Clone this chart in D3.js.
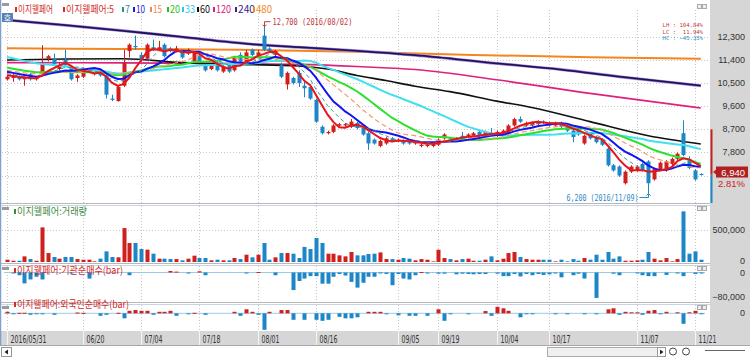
<!DOCTYPE html>
<html><head><meta charset="utf-8">
<script src="https://cdn.jsdelivr.net/npm/d3@7"></script>
<style>
body{margin:0;background:#fff;}
svg{display:block;font-family:"Noto Sans CJK KR","DejaVu Sans",sans-serif;}
</style>
</head><body>
<svg id="c" width="750" height="357"></svg>
<script>
// ---------------- DATA ----------------
const dates = ["05/31",
"06/01","06/02","06/03","06/07","06/08","06/09","06/10","06/13","06/14","06/15","06/16","06/17","06/20","06/21","06/22","06/23","06/24","06/27","06/28","06/29","06/30",
"07/01","07/04","07/05","07/06","07/07","07/08","07/11","07/12","07/13","07/14","07/15","07/18","07/19","07/20","07/21","07/22","07/25","07/26","07/27","07/28","07/29",
"08/01","08/02","08/03","08/04","08/05","08/08","08/09","08/10","08/11","08/12","08/16","08/17","08/18","08/19","08/22","08/23","08/24","08/25","08/26","08/29","08/30","08/31",
"09/01","09/02","09/05","09/06","09/07","09/08","09/09","09/12","09/13","09/19","09/20","09/21","09/22","09/23","09/26","09/27","09/28","09/29","09/30",
"10/04","10/05","10/06","10/07","10/10","10/11","10/12","10/13","10/14","10/17","10/18","10/19","10/20","10/21","10/24","10/25","10/26","10/27","10/28","10/31",
"11/01","11/02","11/03","11/04","11/07","11/08","11/09","11/10","11/11","11/14","11/15","11/16","11/17","11/18","11/21","11/22"];

const open = [10650,10700,10750,10650,10850,10650,10850,11450,11450,11050,11400,11100,10700,10750,10950,10850,10900,10800,9900,9800,
10400,11750,11950,11600,11450,11900,11800,12000,11850,11750,11750,11650,11350,11550,11200,11050,11300,10950,11200,11000,
11600,11350,11800,11600,12350,11850,11600,11200,10450,10700,10900,10400,10350,9850,8800,8550,8600,8850,8850,8800,
8950,8750,8550,8300,8050,8150,8350,8250,8250,8200,8150,8050,8050,8050,8100,8350,8350,8300,8450,8400,
8450,8600,8450,8550,8450,8550,8550,8850,9100,8850,8850,8900,9000,8950,8850,8950,8800,8650,8650,8150,
8550,8400,8300,7950,7300,7250,6600,7050,7100,7350,7450,6750,7150,7100,7350,7550,8550,7550,7100,6960];
const high = [10800,10850,10800,10750,10900,10750,11980,11600,11650,11300,11800,11150,10850,11100,11050,10950,10950,10850,10050,10400,
11800,12050,12350,11700,12050,12200,12150,12050,11900,11950,11800,11850,11750,11600,11250,11250,11350,11200,11250,11550,
11700,11800,11850,11800,12700,11900,11800,11300,10950,10750,11000,10550,10400,9900,8850,8650,8900,8950,8950,9100,
9000,8800,8600,8350,8300,8400,8400,8350,8300,8250,8250,8150,8150,8200,8350,8550,8400,8400,8600,8550,
8600,8650,8650,8750,8650,8700,8900,9150,9200,9000,9000,9050,9050,9000,9000,9000,8850,8700,8700,8500,
8600,8450,8350,8000,7350,7300,7100,7300,7300,7400,7500,7200,7450,7500,7600,7800,9050,7650,7150,6990];
const low = [10600,10550,10600,10400,10600,10600,10800,11350,11200,10950,11150,10600,10550,10700,10900,10800,10750,9900,9800,9780,
10350,11500,11800,11350,11400,11750,11750,11500,11700,11700,11450,11600,11300,11300,10950,11000,10950,10900,10900,10950,
11300,11300,11550,11550,11750,11700,11550,10700,10250,10450,10350,9950,9850,8950,8500,8500,8550,8800,8800,8750,
8700,8450,7900,8100,8000,8100,8200,8200,8100,8100,8100,8000,8000,8000,8050,8300,8250,8250,8350,8350,
8400,8400,8400,8450,8400,8500,8500,8800,8950,8800,8800,8850,8900,8800,8800,8750,8600,8200,8450,8100,
8300,8150,8050,7250,7050,6850,6550,7000,7050,7050,6200,6700,7100,7050,7300,7500,7650,7150,6700,6900];
const close = [10750,10750,10650,10700,10650,10700,11250,11550,11250,11200,11200,10650,10800,11050,11000,10900,10800,10050,9850,10350,
11300,12000,11900,11400,12000,11800,11900,11550,11750,11850,11500,11800,11700,11350,11000,11200,11000,11150,10950,11500,
11350,11700,11600,11700,11800,11750,11750,10750,10900,10500,10500,10300,9900,9000,8550,8600,8850,8900,8900,9000,
8750,8500,8150,8150,8250,8350,8250,8300,8150,8150,8200,8100,8100,8150,8300,8500,8300,8350,8400,8500,
8550,8450,8600,8500,8600,8650,8850,9100,9000,8950,8950,9000,8950,8850,8950,8800,8650,8400,8500,8450,
8350,8200,8100,7300,7100,6900,7050,7250,7250,7100,6600,7150,7400,7450,7550,7750,7700,7200,6750,6940];

// closes before 2016/05/31 (needed only to start the short moving averages)
const priorCloses = [12400,12350,12300,12250,12200,12150,12100,12100,12050,12050,12000,12000,12000,
11600,11500,11450,11350,11300,11250,11200,11100,11050,10950,
11150,11100,11050,11050,11000,10900,10850,10800,10750];

const volume = [36000,20000,20000,88000,46000,20000,541000,140000,78000,52000,78000,78000,46000,36000,36000,10000,52000,166000,78000,73000,
530000,297000,297000,203000,193000,130000,52000,52000,46000,46000,26000,52000,99000,62000,62000,26000,36000,26000,26000,62000,
46000,114000,73000,114000,297000,36000,73000,140000,140000,130000,62000,236000,203000,375000,297000,130000,130000,104000,88000,156000,
104000,104000,125000,130000,150000,46000,46000,36000,62000,52000,26000,46000,36000,10000,192000,62000,46000,26000,46000,52000,
20000,20000,36000,88000,26000,52000,140000,156000,78000,46000,36000,36000,36000,36000,10000,36000,10000,46000,20000,62000,
36000,114000,36000,156000,52000,88000,20000,20000,26000,36000,156000,52000,26000,62000,10000,46000,791000,130000,166000,36000];

const instNet = [0,-3000,-9000,-36000,-23000,-14000,-23000,0,0,0,0,-2000,0,0,-20000,0,0,0,0,0,
0,-9000,0,0,0,0,0,0,5000,3000,0,-2000,0,4000,-9000,0,0,0,0,0,
0,-3000,0,1500,0,0,-9000,0,0,-58000,-28000,-20000,-12000,-12000,-37000,-37000,-14000,-5000,-10000,-31000,
-50000,-34000,-14000,-14000,-3000,-5000,-42000,-5000,-20000,-23000,-9000,1500,-3000,0,-4000,-4000,0,-6000,-4000,-5000,
-6000,-5000,-5000,0,-4000,-12000,-12000,-5000,-13000,-5000,-9000,-5000,-8000,-6000,-3000,-16000,0,-9000,-4000,-20000,
0,-84000,0,0,-4000,-9000,0,0,-2000,-9000,-12000,-12000,0,-8000,0,-2000,-12000,0,-5000,-3000];

const foreignNet = [3000,-2000,1000,1000,-3000,-2000,-2000,0,-3000,0,0,0,1500,1000,0,0,-5000,-3000,0,1000,
-10000,5000,6500,5000,5000,-3000,3000,3000,5000,-5000,0,-2000,1000,0,-3000,0,0,0,0,3000,
-5000,8000,3000,-3000,-33000,3000,0,6500,6500,-13000,0,-13000,0,-13000,-15000,-13000,0,-7000,-10000,-10000,
-8000,0,3000,3000,3000,-2000,0,-4000,0,-5000,-5000,0,-5000,0,8000,-15000,-2000,0,0,-2000,
0,0,4500,-5000,13000,10000,5000,0,-8000,-2000,-2000,0,0,0,-2000,0,-1500,0,0,-1500,
0,-2000,0,8000,10000,-3000,3000,2000,2000,-3000,5000,6500,-2000,3000,0,2000,-21000,2000,5000,-1500];

// long moving averages at selected days (day index, value)
const ma60Days  = [0,10,20,30,40,50,55,60,65,70,76,84,90,100,110,119];
const ma60      = [11400,11440,11450,11300,11230,11170,11050,10800,10600,10380,10170,9800,9550,9000,8450,8130];
const ma120Days = [0,20,40,50,60,70,85,100,110,119];
const ma120     = [11300,11290,11260,11230,11150,11030,10600,10100,9800,9530];
const ma240Days = [0,10,20,30,42,50,60,70,84,95,105,119];
const ma240     = [12960,12760,12540,12300,12020,11900,11760,11590,11270,11030,10750,10400];
const ma480Days = [0,20,40,60,80,100,119];
const ma480     = [11860,11830,11800,11720,11600,11510,11450];

const shortPeriods = [5,7,10,15,20,33];
const priceTicks = [12300,11400,10500,9600,8700,7800,6900];
const dateTicks  = ["05/31","06/20","07/04","07/18","08/01","08/16","09/05","09/19","10/04","10/17","11/07","11/21"];
const dateTickLabels = ["2016/05/31","06/20","07/04","07/18","08/01","08/16","09/05","09/19","10/04","10/17","11/07","11/21"];
const stockName = "이지웰페어";
const legendItems = [
  {t:"이지웰페어", c:"#d42a2a"},{t:"이지웰페어:5", c:"#d42a2a"},{t:"7", c:"#2a8f8f"},{t:"10", c:"#1a1ae6"},
  {t:"15", c:"#f4874a"},{t:"20", c:"#1fc41f"},{t:"33", c:"#27c9e6"},{t:"60", c:"#111"},
  {t:"120", c:"#e0207e"},{t:"240", c:"#3a2090"},{t:"480", c:"#f4861f"}];

// ---------------- DRAW ----------------
const svg = d3.select("#c");
const RED = "#d0201e", BLUE = "#1c86c6";
const x = d3.scalePoint().domain(dates).range([7, 700.8]);
const y = d3.scaleLinear().domain([5830, 13350]).range([203, 10]);
const yv = d3.scaleLinear().domain([0, 500000]).range([262, 230]);
const yi = d3.scaleLinear().domain([-80000, 0]).range([296.7, 272.5]);
const yf = d3.scaleLinear().domain([-40000, 0]).range([333.3, 313.3]);
const N = dates.length;
const idx = d3.range(N);
const AX = "Liberation Sans";

// backgrounds
svg.append("rect").attr("x",0).attr("y",0).attr("width",750).attr("height",357).attr("fill","#fff");
svg.append("rect").attr("x",710).attr("y",0).attr("width",40).attr("height",346).attr("fill","#d6d6d6");
svg.append("rect").attr("x",0).attr("y",331).attr("width",710).attr("height",15).attr("fill","#d6d6d6");
svg.append("line").attr("x1",0.5).attr("x2",0.5).attr("y1",0).attr("y2",346).attr("stroke","#7f9fce").attr("stroke-width",1.5);
// panel separators
[[203.5,205.5],[263.5,265.5],[302.5,304.5]].forEach(([a,b])=>{
  svg.append("line").attr("x1",1).attr("x2",710).attr("y1",a).attr("y2",a).attr("stroke","#b8b8b8");
  svg.append("line").attr("x1",1).attr("x2",710).attr("y1",b).attr("y2",b).attr("stroke","#c8d4e4");
});
svg.append("line").attr("x1",1).attr("x2",750).attr("y1",345.5).attr("y2",345.5).attr("stroke","#a8a8a8");

// grids
const grid = svg.append("g").attr("stroke","#c8c8c8").attr("stroke-dasharray","1,2");
priceTicks.forEach(p=>grid.append("line").attr("x1",2).attr("x2",709).attr("y1",Math.round(y(p))+0.5).attr("y2",Math.round(y(p))+0.5));
grid.append("line").attr("x1",2).attr("x2",709).attr("y1",230.5).attr("y2",230.5);
dateTicks.forEach(d=>{
  const xx = Math.round(x(d))+0.5;
  [[10,203],[206,263],[266,302],[305,330]].forEach(([a,b])=>grid.append("line").attr("x1",xx).attr("x2",xx).attr("y1",a).attr("y2",b));
});

// long MAs
const lineIdx = (days, vals) => d3.line().curve(d3.curveMonotoneX)
   .x((d,i)=>x(dates[days[i]])).y(d=>y(d))(vals);
svg.append("path").attr("d",lineIdx(ma480Days,ma480)).attr("fill","none").attr("stroke","#f4861f").attr("stroke-width",2);
svg.append("path").attr("d",lineIdx(ma240Days,ma240)).attr("fill","none").attr("stroke","#a68bd8").attr("stroke-width",3);
svg.append("path").attr("d",lineIdx(ma240Days,ma240)).attr("fill","none").attr("stroke","#22125e").attr("stroke-width",1.8);
svg.append("path").attr("d",lineIdx(ma120Days,ma120)).attr("fill","none").attr("stroke","#e0207e").attr("stroke-width",1.6);
svg.append("path").attr("d",lineIdx(ma60Days,ma60)).attr("fill","none").attr("stroke","#111").attr("stroke-width",1.6);

// candles
const cg = svg.append("g");
idx.forEach(i=>{
  const up = close[i] >= open[i];
  const col = up ? RED : BLUE;
  const cx = Math.round(x(dates[i]));
  cg.append("line").attr("x1",cx+0.5).attr("x2",cx+0.5).attr("y1",y(high[i])).attr("y2",y(low[i])).attr("stroke",col);
  const top = y(Math.max(open[i],close[i])), bot = y(Math.min(open[i],close[i]));
  cg.append("rect").attr("x",cx-1.5).attr("y",top).attr("width",4).attr("height",Math.max(1,bot-top)).attr("fill",col);
});

// short MAs computed from closes
const allC = priorCloses.concat(close);
const P = priorCloses.length;
function maSeries(n){ return idx.map(i=>d3.mean(allC.slice(P+i-n+1, P+i+1))); }
const maStyle = {5:{c:"#e8141c",w:2},7:{c:"#3a9a9a",w:1,dash:"4,3"},10:{c:"#1414ee",w:2},
                 15:{c:"#f59a6a",w:1.2,dash:"5,3"},20:{c:"#2ee02e",w:2},33:{c:"#3fe0f0",w:2}};
const ln = d3.line().x((d,i)=>x(dates[i])).y(d=>y(d));
[33,20,15,10,7,5].forEach(n=>{
  const s = maStyle[n];
  svg.append("path").attr("d",ln(maSeries(n))).attr("fill","none").attr("stroke",s.c)
     .attr("stroke-width",s.w).attr("stroke-dasharray",s.dash||null);
});

// high / low annotations
const hiI = high.indexOf(d3.max(high)), loI = low.indexOf(d3.min(low));
const hx = Math.round(x(dates[hiI]))+0.5, hy = y(high[hiI]);
svg.append("path").attr("d",`M${hx},${hy} L${hx},${hy-5} L${hx+6},${hy-5}`).attr("fill","none").attr("stroke","#c23a3a");
svg.append("path").attr("d",`M${hx-2},${hy-2} L${hx},${hy} L${hx+2},${hy-2}`).attr("fill","none").attr("stroke","#c23a3a");
svg.append("text").attr("x",hx+8).attr("y",hy-2).attr("font-size",9).attr("fill","#c23a3a")
   .attr("font-family","DejaVu Sans Mono").attr("textLength",80).attr("lengthAdjust","spacingAndGlyphs")
   .text(`${d3.format(",")(high[hiI])} (2016/${dates[hiI]})`);
const lx = Math.round(x(dates[loI]))+0.5, ly = y(low[loI]);
svg.append("path").attr("d",`M${lx-9},${ly+4} L${lx},${ly+4} L${lx},${ly}`).attr("fill","none").attr("stroke","#2a8ac8");
svg.append("path").attr("d",`M${lx-2},${ly+2} L${lx},${ly} L${lx+2},${ly+2}`).attr("fill","none").attr("stroke","#2a8ac8");
svg.append("text").attr("x",lx-10).attr("y",ly+7).attr("text-anchor","end").attr("font-size",9).attr("fill","#2a8ac8")
   .attr("font-family","DejaVu Sans Mono").attr("textLength",72).attr("lengthAdjust","spacingAndGlyphs")
   .text(`${d3.format(",")(low[loI])} (2016/${dates[loI]})`);

// LH/LC/HC
const last = close[N-1], H = high[hiI], L = low[loI];
const stats = [["LH", (H/L-1)*100, "#c23a3a"],["LC",(last/L-1)*100,"#c23a3a"],["HC",(last/H-1)*100,"#2a8ac8"]];
stats.forEach((s,k)=>{
  svg.append("text").attr("x",703).attr("y",27+k*6.6).attr("font-size",5.6).attr("fill",s[2]).attr("text-anchor","end")
    .attr("font-family","DejaVu Sans Mono").attr("xml:space","preserve")
    .text(`${s[0]} : ${d3.format(".2f")(s[1]).padStart(6," ")}%`);
});

// volume bars
idx.forEach(i=>{
  const col = close[i] >= open[i] ? RED : BLUE;
  const cx = Math.round(x(dates[i]));
  svg.append("rect").attr("x",cx-1.5).attr("y",yv(volume[i])).attr("width",4).attr("height",yv(0)-yv(volume[i])).attr("fill",col);
});
// institution & foreign bars
function netBars(arr, sc){
  svg.append("line").attr("x1",4).attr("x2",705).attr("y1",sc(0)).attr("y2",sc(0)).attr("stroke","#9ccbe6").attr("stroke-width",1);
  idx.forEach(i=>{
    const v = arr[i]; if(!v) return;
    const cx = Math.round(x(dates[i]));
    const a = sc(Math.max(0,v)), b = sc(Math.min(0,v));
    svg.append("rect").attr("x",cx-1.5).attr("y",a).attr("width",4).attr("height",Math.max(1,b-a)).attr("fill",v>0?RED:BLUE);
  });
}
netBars(instNet, yi);
netBars(foreignNet, yf);

// panel titles
function title(xp, yp, txt, col, w){
  svg.append("rect").attr("x",xp-3).attr("y",yp-6).attr("width",2).attr("height",5).attr("fill",col);
  svg.append("text").attr("x",xp).attr("y",yp).attr("font-size",10).attr("fill",col)
     .attr("textLength",w).attr("lengthAdjust","spacingAndGlyphs").text(txt);
}
legendItems.forEach((d,k)=>{
  const xs = [18,66,125,136,153,170,185,200,216,238,256][k];
  const ws = [35,48,5,9,9,10,10,10,15,17,16][k];
  title(xs, 13, d.t, d.c, ws);
});
title(17, 215, stockName+":거래량", "#3d8a3d", 70);
title(17, 274, stockName+":기관순매수(bar)", "#d42a2a", 106);
title(17, 308, stockName+":외국인순매수(bar)", "#d42a2a", 112);

// small window icons
[[2,3],[2,207],[2,267],[2,306]].forEach(([a,b])=>svg.append("rect").attr("x",a).attr("y",b).attr("width",7).attr("height",3).attr("fill","#9a9a9a"));
[[697,4],[697,206],[697,266],[697,305]].forEach(([a,b])=>{
  [0,5].forEach(o=>svg.append("rect").attr("x",a+o+0.5).attr("y",b+0.5).attr("width",4).attr("height",4).attr("fill","#eee").attr("stroke","#aaa"));
});
// "호" box
svg.append("rect").attr("x",2).attr("y",13).attr("width",11).attr("height",9).attr("fill","#5b82b4");
svg.append("text").attr("x",7.5).attr("y",20.5).attr("text-anchor","middle").attr("font-size",8).attr("fill","#fff").text("호");

// right axis labels
const fmt = d3.format(",");
const axisText = (yy, t, col) => svg.append("text").attr("x",745).attr("y",yy).attr("text-anchor","end")
   .attr("font-size",9).attr("fill",col||"#333").attr("font-family",AX).text(t);
priceTicks.slice(0,6).forEach(p=>axisText(y(p)+3, fmt(p)));
axisText(yv(500000)+3, fmt(500000));
axisText(yv(0)+2, "0");
axisText(yi(0)+3, "0");
axisText(yi(-80000)+3, fmt(-80000));
axisText(yf(0)+3, "0");

// current price marker
const prev = close[N-2];
svg.append("rect").attr("x",710.5).attr("y",y(8700)).attr("width",2).attr("height",y(last)-y(8700)).attr("fill","#c8201e");
svg.append("rect").attr("x",710.5).attr("y",y(last)).attr("width",2).attr("height",203-y(last)).attr("fill","#1c86c6");
svg.append("path").attr("d",`M${713},${y(last)-2.5} L${716},${y(last)-5} L${716},${y(last)}Z`).attr("fill","#c8201e");
svg.append("rect").attr("x",716).attr("y",y(last)-8).attr("width",32).attr("height",11).attr("fill","#b02020");
svg.append("text").attr("x",745).attr("y",y(last)+1).attr("text-anchor","end").attr("font-size",9.5).attr("fill","#fff")
   .attr("font-family",AX).text(fmt(last));
svg.append("text").attr("x",745).attr("y",y(last)+12).attr("text-anchor","end").attr("font-size",9.5).attr("fill","#d02020")
   .attr("font-family",AX).text(d3.format(".2f")((last/prev-1)*100)+"%");

// date axis
dateTicks.forEach((d,k)=>{
  const xx = Math.round(x(d))+0.5;
  svg.append("line").attr("x1",xx).attr("x2",xx).attr("y1",331).attr("y2",345).attr("stroke","#f4f4f4");
  const lab = dateTickLabels[k];
  svg.append("text").attr("x",xx+3).attr("y",343).attr("font-size",10).attr("fill","#333")
     .attr("font-family","DejaVu Sans").attr("textLength",lab.length*3.6).attr("lengthAdjust","spacingAndGlyphs").text(lab);
});

// bottom toolbar
svg.append("rect").attr("x",1.5).attr("y",347.5).attr("width",10).attr("height",9).attr("fill","#fff").attr("stroke","#999");
svg.append("path").attr("d","M8,349.5 L4.5,352 L8,354.5Z").attr("fill","#222");
svg.append("rect").attr("x",547.5).attr("y",347.5).attr("width",110).attr("height",9).attr("fill","#f0f0f0").attr("stroke","#aaa");
svg.append("rect").attr("x",657.5).attr("y",347.5).attr("width",8).attr("height",9).attr("fill","#fff").attr("stroke","#999");
svg.append("path").attr("d","M660,349.5 L663.5,352 L660,354.5Z").attr("fill","#222");
[673,686].forEach(cx=>{svg.append("circle").attr("cx",cx).attr("cy",351.5).attr("r",3.5).attr("fill","none").attr("stroke","#444");});
svg.append("line").attr("x1",705).attr("x2",745).attr("y1",350.5).attr("y2",350.5).attr("stroke","#666");
</script>
</body></html>
